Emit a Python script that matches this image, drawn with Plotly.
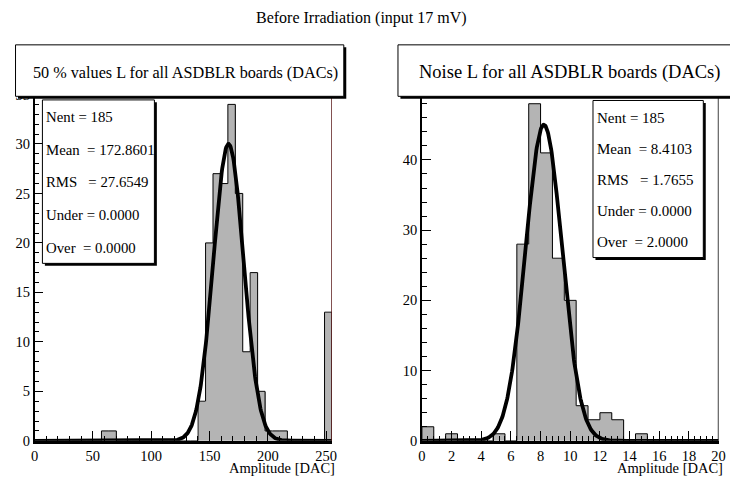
import numpy as np
import plotly.graph_objects as go

W, H = 730, 486

# ---------------- data ----------------
# Left histogram: 50 % values L (DAC), 40 bins over [0, 255]
left_xmin, left_xmax, left_nbins = 0.0, 255.0, 40
left_counts = [0, 0, 0, 0, 0, 0, 0, 0, 0, 1,
               1, 0, 0, 0, 0, 0, 0, 0, 0, 0,
               0, 0, 4, 20, 27, 26, 34, 25, 9, 17,
               5, 1, 1, 1, 0, 0, 0, 0, 0, 13]
left_fit = dict(amp=30.0, mean=166.3, sigma=13.0)
left_stats = ["Nent = 185", "Mean\u00a0\u00a0= 172.8601", "RMS\u00a0\u00a0\u00a0= 27.6549",
              "Under = 0.0000", "Over\u00a0\u00a0= 0.0000"]
left_title = "50 % values L for all ASDBLR boards (DACs)"

# Right histogram: Noise L (DAC), 25 bins over [0, 20]
right_xmin, right_xmax, right_nbins = 0.0, 20.0, 25
right_counts = [2, 0, 1, 0, 0, 0, 1, 0, 28, 48,
                41, 26, 20, 5, 3, 4, 3, 0, 1, 0,
                0, 0, 0, 0, 0]
right_fit = dict(amp=45.0, mean=8.22, sigma=1.23)
right_stats = ["Nent = 185", "Mean\u00a0\u00a0= 8.4103", "RMS\u00a0\u00a0\u00a0= 1.7655",
               "Under = 0.0000", "Over\u00a0\u00a0= 2.0000"]
right_title = "Noise L for all ASDBLR boards (DACs)"

main_title = "Before Irradiation (input 17 mV)"
x_title = "Amplitude [DAC]"

FONT = "Liberation Serif"
GRAY = "rgb(180,180,180)"


def px(x):
    return x / W


def py(y):
    return 1 - y / H


def hist_traces(xmin, xmax, nbins, counts, fit, xa, ya):
    edges = np.linspace(xmin, xmax, nbins + 1)
    centers = 0.5 * (edges[:-1] + edges[1:])
    bw = edges[1] - edges[0]
    c = np.array(counts, dtype=float)
    bars = go.Bar(x=centers, y=c, width=bw, marker=dict(color=GRAY, line=dict(width=0)),
                  xaxis=xa, yaxis=ya, showlegend=False, hoverinfo="skip")
    sx = [edges[0]] + list(edges[:-1]) + [edges[-1], edges[-1]]
    sy = [0] + list(c) + [c[-1], 0]
    outline = go.Scatter(x=sx, y=sy, mode="lines", line=dict(color="black", width=1, shape="hv"),
                         xaxis=xa, yaxis=ya, showlegend=False, hoverinfo="skip")
    fx = np.linspace(xmin, xmax, 600)
    fy = fit["amp"] * np.exp(-0.5 * ((fx - fit["mean"]) / fit["sigma"]) ** 2)
    curve = go.Scatter(x=fx, y=fy, mode="lines", line=dict(color="black", width=3.8),
                       xaxis=xa, yaxis=ya, showlegend=False, hoverinfo="skip")
    return [bars, outline, curve]


fig = go.Figure()
for t in hist_traces(left_xmin, left_xmax, left_nbins, left_counts, left_fit, "x", "y"):
    fig.add_trace(t)
for t in hist_traces(right_xmin, right_xmax, right_nbins, right_counts, right_fit, "x2", "y2"):
    fig.add_trace(t)

y_bot, y_top = 447.7, 84.0
tickfont = dict(family=FONT, size=14.5, color="black")


def xaxis(dom, rng, dtick, mdtick, anchor):
    return dict(domain=[px(dom[0]), px(dom[1])], range=rng, anchor=anchor,
                showline=True, linecolor="black", linewidth=2.5,
                ticks="inside", ticklen=10, tickwidth=1, tickcolor="black",
                dtick=dtick, tick0=0, showgrid=False, zeroline=False,
                minor=dict(ticks="inside", ticklen=5, dtick=mdtick, tick0=0,
                           tickcolor="black", tickwidth=1, showgrid=False),
                tickfont=tickfont, fixedrange=True)


def yaxis(rng, dtick, mdtick, anchor):
    return dict(domain=[py(y_bot), py(y_top)], range=rng, anchor=anchor,
                showline=True, linecolor="black", linewidth=1.5,
                ticks="inside", ticklen=9, tickwidth=1, tickcolor="black",
                dtick=dtick, tick0=0, showgrid=False, zeroline=False,
                minor=dict(ticks="inside", ticklen=5, dtick=mdtick, tick0=0,
                           tickcolor="black", tickwidth=1, showgrid=False),
                tickfont=tickfont, fixedrange=True)


shapes = []
annotations = []


def box(x0, y0, x1, y1, shadow=2.5):
    shapes.append(dict(type="rect", xref="paper", yref="paper", layer="above",
                       x0=px(x0 + shadow), x1=px(x1 + shadow), y0=py(y1 + shadow), y1=py(y0 + shadow),
                       fillcolor="black", line=dict(width=0)))
    shapes.append(dict(type="rect", xref="paper", yref="paper", layer="above",
                       x0=px(x0), x1=px(x1), y0=py(y1), y1=py(y0),
                       fillcolor="white", line=dict(color="black", width=1)))


# frame right edges
shapes.append(dict(type="line", xref="x", yref="y domain", x0=left_xmax, x1=left_xmax, y0=0, y1=1,
                   line=dict(color="rgb(90,25,25)", width=1.5), layer="above"))
shapes.append(dict(type="line", xref="x2", yref="y2 domain", x0=right_xmax, x1=right_xmax, y0=0, y1=1,
                   line=dict(color="black", width=1.5), layer="above"))

# title boxes
box(11.7, 40, 345, 93)
box(400, 40, 745, 93)
annotations.append(dict(text=left_title, x=px(184), y=py(68.5), xref="paper", yref="paper",
                        xanchor="center", yanchor="middle", showarrow=False,
                        font=dict(family=FONT, size=16.2, color="black")))
annotations.append(dict(text=right_title, x=px(574), y=py(68.5), xref="paper", yref="paper",
                        xanchor="center", yanchor="middle", showarrow=False,
                        font=dict(family=FONT, size=18.5, color="black")))

# stats boxes
box(39, 96.7, 152.7, 265)
box(598, 97.3, 710, 259)
for i, s in enumerate(left_stats):
    annotations.append(dict(text=s, x=px(41), y=py(114 + 33.8 * i), xref="paper", yref="paper",
                            xanchor="left", yanchor="middle", showarrow=False,
                            font=dict(family=FONT, size=14.8, color="black")))
for i, s in enumerate(right_stats):
    annotations.append(dict(text=s, x=px(600), y=py(115.5 + 31.8 * i), xref="paper", yref="paper",
                            xanchor="left", yanchor="middle", showarrow=False,
                            font=dict(family=FONT, size=15, color="black")))

# axis titles
annotations.append(dict(text=x_title, x=px(338), y=py(476), xref="paper", yref="paper",
                        xanchor="right", yanchor="middle", showarrow=False,
                        font=dict(family=FONT, size=14.5, color="black")))
annotations.append(dict(text=x_title, x=px(732), y=py(476), xref="paper", yref="paper",
                        xanchor="right", yanchor="middle", showarrow=False,
                        font=dict(family=FONT, size=14.5, color="black")))

# main title
annotations.append(dict(text=main_title, x=px(363), y=py(12), xref="paper", yref="paper",
                        xanchor="center", yanchor="middle", showarrow=False,
                        font=dict(family=FONT, size=16, color="black")))

fig.update_layout(
    width=W, height=H, margin=dict(l=0, r=0, t=0, b=0), autosize=False,
    paper_bgcolor="white", plot_bgcolor="white", bargap=0, showlegend=False,
    xaxis=xaxis((31, 333), [left_xmin, left_xmax], 50, 10, "y"),
    yaxis=yaxis([0, 35.7], 5, 1, "x"),
    xaxis2=xaxis((424.3, 725.5), [right_xmin, right_xmax], 2, 0.4, "y2"),
    yaxis2=yaxis([0, 50.3], 10, 2, "x2"),
    shapes=shapes, annotations=annotations,
)

fig.write_html("out.html")
